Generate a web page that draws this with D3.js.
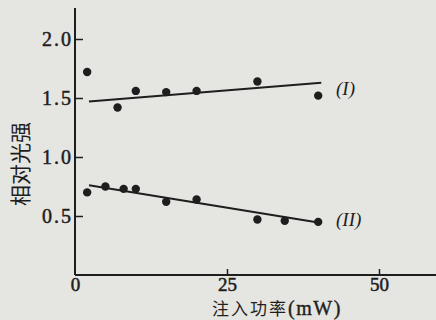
<!DOCTYPE html>
<html>
<head>
<meta charset="utf-8">
<script src="https://cdn.jsdelivr.net/npm/d3@7"></script>
<style>
  body { margin: 0; background: #e5e5e1; }
  svg { display: block; }
</style>
</head>
<body>
<div id="chart"></div>
<script>
/* DATA */
const xTicks = [0, 25, 50];
const yTicks = [0.5, 1.0, 1.5, 2.0];

const powerI = [2, 7, 10, 15, 20, 30, 40];
const intensityI = [1.72, 1.42, 1.56, 1.55, 1.56, 1.64, 1.52];
const fitI = [[2.3, 1.47], [40.5, 1.63]];

const powerII = [2, 5, 8, 10, 15, 20, 30, 34.5, 40];
const intensityII = [0.70, 0.75, 0.73, 0.73, 0.62, 0.64, 0.47, 0.46, 0.45];
const fitII = [[2.3, 0.76], [40.5, 0.44]];

const seriesNames = ["(I)", "(II)"];

/* CONSTANTS */
const width = 436, height = 320;
const ink = "#1e1e1e";
const serif = "'Liberation Serif', 'DejaVu Serif', serif";
const cjk = "'Noto Sans CJK SC', sans-serif";

const svg = d3.select("#chart").append("svg")
  .attr("width", width)
  .attr("height", height);

svg.append("rect")
  .attr("width", width).attr("height", height)
  .attr("fill", "#e5e5e1");

const x = d3.scaleLinear().domain([0, 50]).range([75, 379]);
const y = d3.scaleLinear().domain([0, 2]).range([275, 39]);

// axes lines (extend past the last ticks like the original)
svg.append("line")
  .attr("x1", x(0)).attr("x2", 436)
  .attr("y1", y(0)).attr("y2", y(0))
  .attr("stroke", ink).attr("stroke-width", 2);
svg.append("line")
  .attr("x1", x(0)).attr("x2", x(0))
  .attr("y1", y(0)).attr("y2", 8)
  .attr("stroke", ink).attr("stroke-width", 2);

// x axis
const xAxis = svg.append("g")
  .attr("transform", `translate(0,${y(0)})`)
  .call(d3.axisBottom(x).tickValues(xTicks).tickSize(-6).tickPadding(2).tickFormat(d3.format("d")));
xAxis.select(".domain").remove();
xAxis.selectAll("line").attr("stroke", ink).attr("stroke-width", 1.5);
xAxis.selectAll("line").filter(d => d === 0).remove();
xAxis.selectAll("text")
  .attr("fill", ink)
  .attr("stroke", ink).attr("stroke-width", 0.5)
  .style("font-family", serif)
  .style("font-size", "19px");

// y axis
const yAxis = svg.append("g")
  .attr("transform", `translate(${x(0)},0)`)
  .call(d3.axisLeft(y).tickValues(yTicks).tickSize(-8).tickPadding(2).tickFormat(d3.format(".1f")));
yAxis.select(".domain").remove();
yAxis.selectAll("line").attr("stroke", ink).attr("stroke-width", 1.5);
yAxis.selectAll("text")
  .attr("fill", ink)
  .attr("stroke", ink).attr("stroke-width", 0.5)
  .style("font-family", serif)
  .style("font-size", "20px")
  .style("letter-spacing", "2px");

// fit lines
const line = d3.line().x(d => x(d[0])).y(d => y(d[1]));
[fitI, fitII].forEach(f => {
  svg.append("path")
    .attr("d", line(f))
    .attr("fill", "none")
    .attr("stroke", ink)
    .attr("stroke-width", 2);
});

// points
const ptsI = powerI.map((p, i) => ({ p, v: intensityI[i] }));
const ptsII = powerII.map((p, i) => ({ p, v: intensityII[i] }));
svg.selectAll("circle.dot")
  .data(ptsI.concat(ptsII))
  .join("circle")
  .attr("class", "dot")
  .attr("cx", d => x(d.p))
  .attr("cy", d => y(d.v))
  .attr("r", 4.2)
  .attr("fill", ink);

// series labels
svg.append("text")
  .attr("x", 336).attr("y", y(1.56))
  .attr("dominant-baseline", "middle")
  .attr("fill", ink)
  .style("font-family", serif)
  .style("font-style", "italic")
  .style("font-size", "19px")
  .text(seriesNames[0]);
svg.append("text")
  .attr("x", 336).attr("y", y(0.45))
  .attr("dominant-baseline", "middle")
  .attr("fill", ink)
  .style("font-family", serif)
  .style("font-style", "italic")
  .style("font-size", "19px")
  .text(seriesNames[1]);

// axis titles
svg.append("text")
  .attr("transform", `translate(28,${164}) rotate(-90)`)
  .attr("text-anchor", "middle")
  .attr("fill", ink)
  .style("font-family", cjk)
  .style("font-size", "21px")
  .text("相对光强");

const xt = svg.append("text")
  .attr("x", 277).attr("y", 315)
  .attr("text-anchor", "middle")
  .attr("fill", ink);
xt.append("tspan").style("font-family", cjk).style("font-size", "17px")
  .style("letter-spacing", "2px").text("注入功率");
xt.append("tspan").style("font-family", serif).style("font-size", "20px")
  .attr("stroke", ink).attr("stroke-width", 0.4)
  .style("letter-spacing", "1.5px").text("(mW)");
</script>
</body>
</html>
